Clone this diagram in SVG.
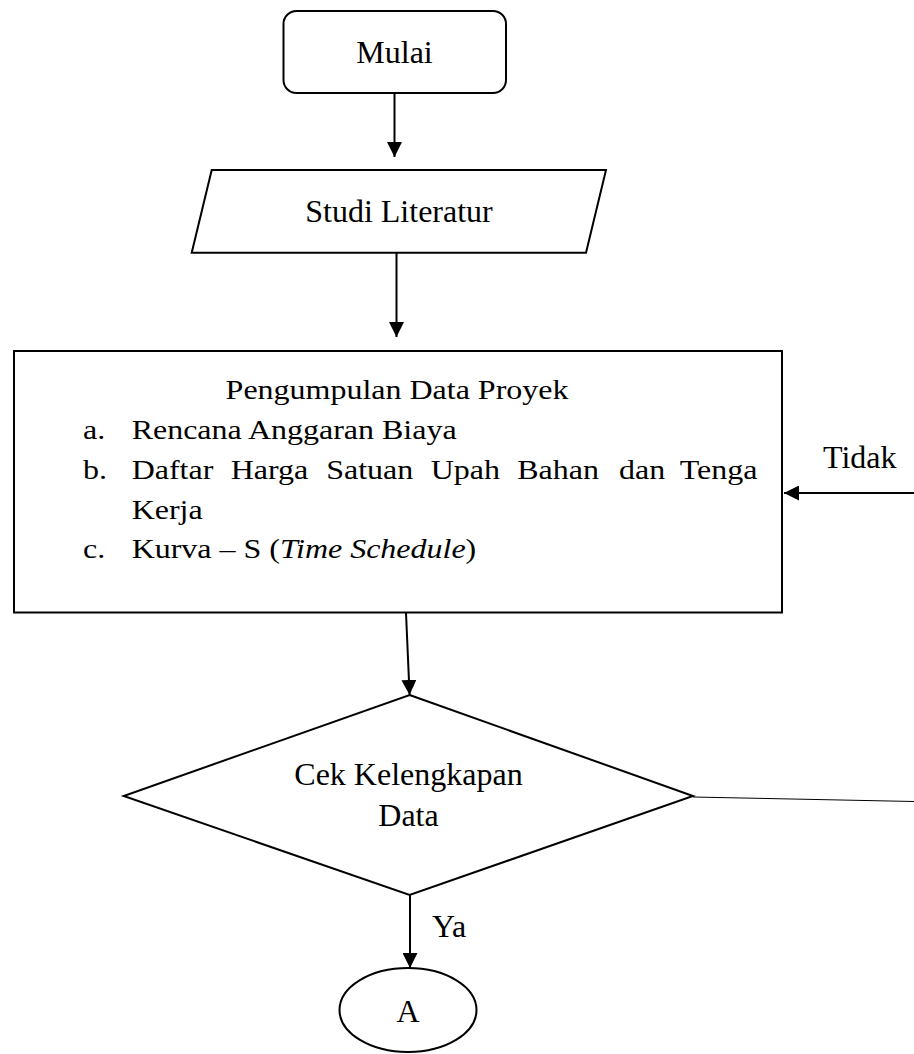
<svg xmlns="http://www.w3.org/2000/svg" width="914" height="1054" viewBox="0 0 914 1054">
<defs>
<marker id="arr" markerWidth="15" markerHeight="15" refX="15" refY="7.5" orient="auto" markerUnits="userSpaceOnUse">
<path d="M0,0 L15,7.5 L0,15 Z" fill="#000"/>
</marker>
<style>
.t{font-family:"Liberation Serif","Times New Roman",serif;font-size:32px;fill:#000}
.b{font-family:"Liberation Serif","Times New Roman",serif;font-size:28px;fill:#000}
.m{text-anchor:middle}
.s{fill:#fff;stroke:#000;stroke-width:2}
.c{fill:none;stroke:#000;stroke-width:2}
.thin{fill:none;stroke:#000;stroke-width:1}
</style>
</defs>
<rect width="914" height="1054" fill="#fff"/>
<g id="connectors">
<line class="c" x1="394.5" y1="93" x2="394.5" y2="157" marker-end="url(#arr)"/>
<line class="c" x1="396.5" y1="253" x2="396.5" y2="337" marker-end="url(#arr)"/>
<line class="c" x1="914" y1="493" x2="784" y2="493" marker-end="url(#arr)"/>
<line class="c" x1="406" y1="613" x2="409.6" y2="695" marker-end="url(#arr)"/>
<line class="thin" x1="693" y1="797" x2="914" y2="801.5"/>
<line class="c" x1="410" y1="895" x2="410" y2="968" marker-end="url(#arr)"/>
<text class="t" x="823" y="468">Tidak</text>
<text class="t" x="432" y="937">Ya</text>
</g>
<g id="start">
<rect class="s" x="283.5" y="11" width="222.5" height="82" rx="13"/>
<text class="t m" x="394.5" y="63">Mulai</text>
</g>
<g id="studi">
<polygon class="s" points="211.7,170 606,170 586,252.7 191.7,252.7"/>
<text class="t m" x="399" y="222">Studi Literatur</text>
</g>
<g id="pengumpulan">
<rect class="s" x="14" y="351" width="768" height="261.5"/>
<g transform="scale(1.142857,1)">
<text class="b m" x="347.4" y="399">Pengumpulan Data Proyek</text>
<text class="b" x="72.6" y="439">a.</text>
<text class="b" x="115.2" y="439">Rencana Anggaran Biaya</text>
<text class="b" x="72.6" y="479">b.</text>
<text class="b" y="479"><tspan x="115.2">Daftar</tspan><tspan x="201.9">Harga</tspan><tspan x="285.4">Satuan</tspan><tspan x="376.8">Upah</tspan><tspan x="452.6">Bahan</tspan><tspan x="541.6">dan</tspan><tspan x="594.8">Tenga</tspan></text>
<text class="b" x="115.2" y="519">Kerja</text>
<text class="b" x="72.6" y="558">c.</text>
<text class="b" x="115.2" y="558">Kurva – S (<tspan font-style="italic">Time Schedule</tspan>)</text>
</g>
</g>
<g id="cek">
<polygon class="s" points="409.6,695 693,796 409.6,895 123.7,796"/>
<text class="t m" x="408.5" y="785">Cek Kelengkapan</text>
<text class="t m" x="408.5" y="826">Data</text>
</g>
<g id="connectorA">
<ellipse class="s" cx="408" cy="1010" rx="68.5" ry="42"/>
<text class="t m" x="408" y="1022">A</text>
</g>
</svg>
